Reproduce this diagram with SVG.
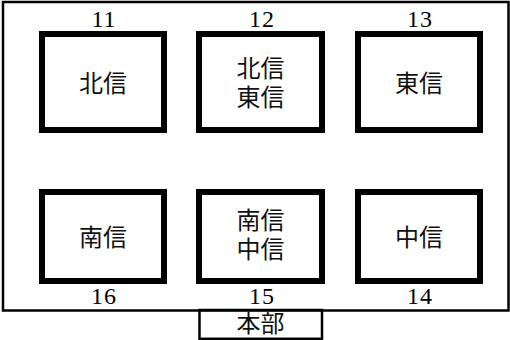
<svg xmlns="http://www.w3.org/2000/svg" width="510" height="340" viewBox="0 0 510 340">
<style>
.frame{fill:none;stroke:#000;stroke-width:2.5}
.box{fill:#fff;stroke:#000;stroke-width:6}
.num{font-family:"Liberation Serif",serif;font-size:24px;fill:#000;text-anchor:middle;letter-spacing:1px}
.lbl{font-family:"Noto Sans CJK JP","Noto Sans CJK SC",sans-serif;font-size:24px;fill:#111;text-anchor:middle}
</style>
<rect width="510" height="340" fill="#fff"/>
<g id="frame">
<rect class="frame" x="3" y="2" width="505.5" height="308.5"/>
</g>
<g id="connectors"></g>
<g id="n11">
<rect class="box" x="42" y="34" width="122" height="96"/>
<text class="num" x="104" y="27">11</text>
<text class="lbl" x="103" y="92">北信</text>
</g>
<g id="n12">
<rect class="box" x="199" y="34" width="123" height="96"/>
<text class="num" x="262" y="27">12</text>
<text class="lbl" x="260.5" y="77">北信</text>
<text class="lbl" x="260.5" y="106">東信</text>
</g>
<g id="n13">
<rect class="box" x="358" y="34" width="122" height="96"/>
<text class="num" x="420" y="27">13</text>
<text class="lbl" x="419" y="92">東信</text>
</g>
<g id="n16">
<rect class="box" x="42" y="192" width="122" height="89"/>
<text class="num" x="104" y="304">16</text>
<text class="lbl" x="103" y="246">南信</text>
</g>
<g id="n15">
<rect class="box" x="199" y="192" width="123" height="89"/>
<text class="num" x="262" y="304">15</text>
<text class="lbl" x="260.5" y="229">南信</text>
<text class="lbl" x="260.5" y="258">中信</text>
</g>
<g id="n14">
<rect class="box" x="358" y="192" width="122" height="89"/>
<text class="num" x="420" y="304">14</text>
<text class="lbl" x="419" y="246">中信</text>
</g>
<g id="hq">
<rect class="frame" x="199.5" y="310" width="122.5" height="28.8"/>
<text class="lbl" x="260.5" y="332">本部</text>
</g>
</svg>
